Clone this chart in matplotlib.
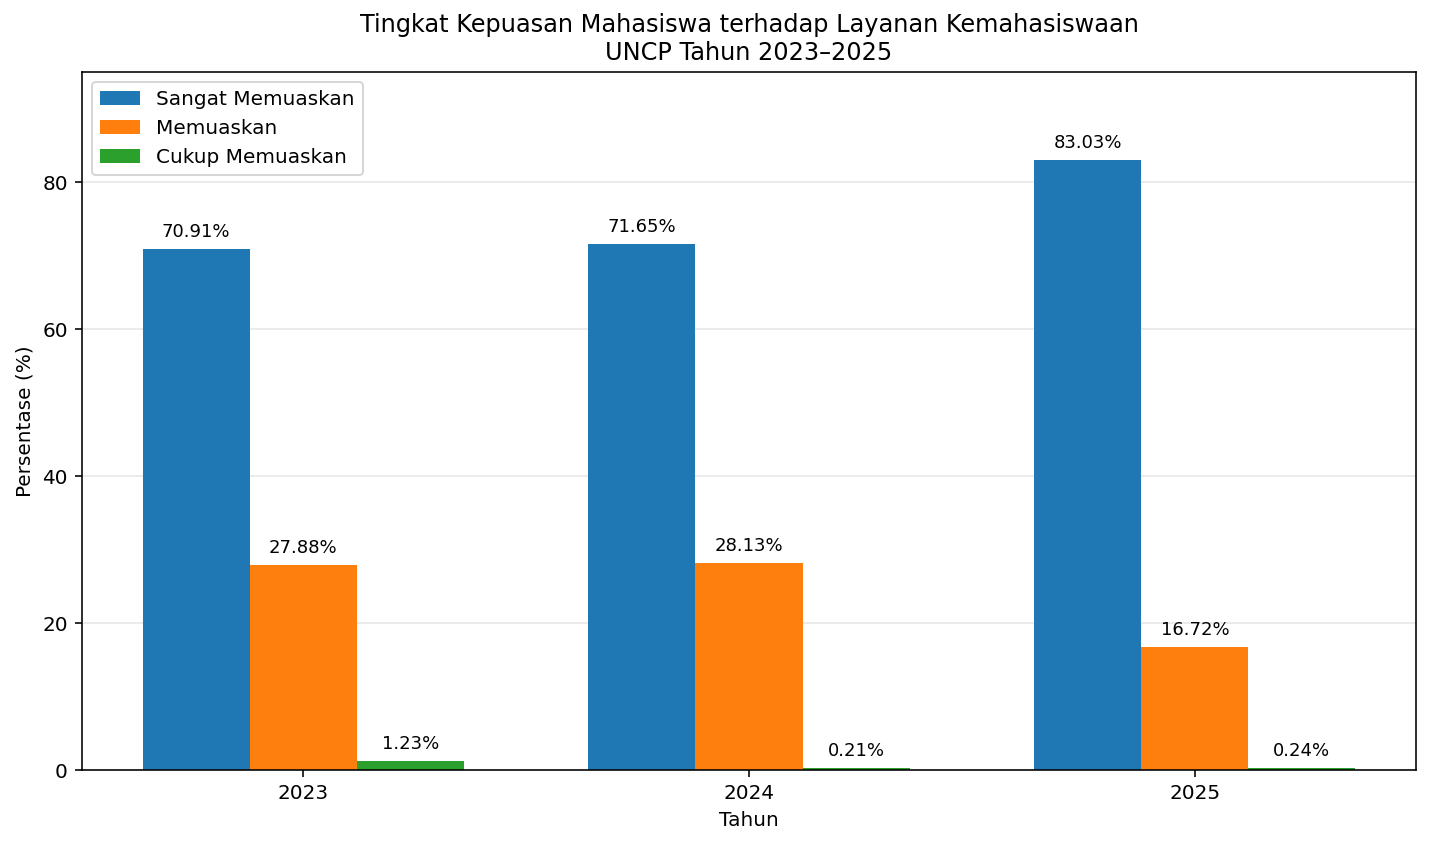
import matplotlib
matplotlib.use("Agg")
import matplotlib.pyplot as plt
import numpy as np

tahun = ["2023", "2024", "2025"]
sangat_memuaskan = [70.91, 71.65, 83.03]
memuaskan = [27.88, 28.13, 16.72]
cukup_memuaskan = [1.23, 0.21, 0.24]

seri = [
    ("Sangat Memuaskan", sangat_memuaskan, "#1f77b4"),
    ("Memuaskan", memuaskan, "#ff7f0e"),
    ("Cukup Memuaskan", cukup_memuaskan, "#2ca02c"),
]

DPI = 144
fig, ax = plt.subplots(figsize=(1430 / DPI, 847 / DPI), dpi=DPI)

x = np.arange(len(tahun))
lebar = 0.24

for i, (nama, nilai, warna) in enumerate(seri):
    barras = ax.bar(x + (i - 1) * lebar, nilai, lebar, label=nama, color=warna)
    for barra, v in zip(barras, nilai):
        ax.annotate(
            f"{v:.2f}%",
            (barra.get_x() + barra.get_width() / 2, barra.get_height()),
            xytext=(0, 4),
            textcoords="offset points",
            ha="center",
            va="bottom",
            fontsize=9,
        )

ax.set_title("Tingkat Kepuasan Mahasiswa terhadap Layanan Kemahasiswaan\nUNCP Tahun 2023–2025", fontsize=12)
ax.set_xlabel("Tahun")
ax.set_ylabel("Persentase (%)")
ax.set_xticks(x)
ax.set_xticklabels(tahun)
ax.set_ylim(0, 95)
ax.grid(True, axis="y", alpha=0.3)
ax.set_axisbelow(True)
ax.legend(loc="upper left")

fig.subplots_adjust(left=82 / 1430, right=1416 / 1430, top=1 - 72 / 847, bottom=1 - 770 / 847)
plt.savefig("out.png", dpi=DPI)
plt.close(fig)
